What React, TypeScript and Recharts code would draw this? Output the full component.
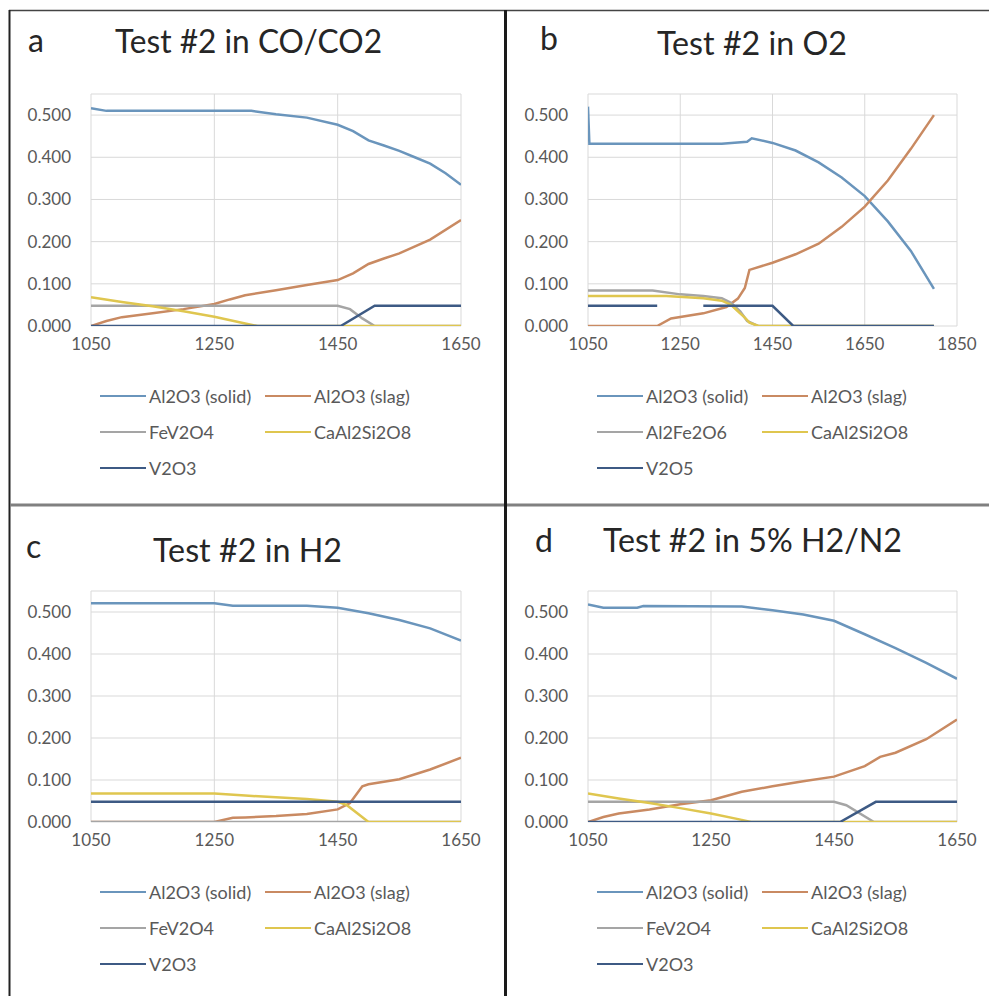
import React from 'react';
import { LineChart, Line, XAxis, YAxis, CartesianGrid, Legend } from 'recharts';

type Pt = [number, number | null];

// ---------- axis ticks ----------
const yTicks = [0, 0.1, 0.2, 0.3, 0.4, 0.5];
const xTicksShort = [1050, 1250, 1450, 1650];
const xTicksLong = [1050, 1250, 1450, 1650, 1850];

// ---------- series names ----------
const namesVO = ['Al2O3 (solid)', 'Al2O3 (slag)', 'FeV2O4', 'CaAl2Si2O8', 'V2O3'];
const namesO2 = ['Al2O3 (solid)', 'Al2O3 (slag)', 'Al2Fe2O6', 'CaAl2Si2O8', 'V2O5'];

// ---------- panel a: Test #2 in CO/CO2 ----------
const aSolid: Pt[] = [[1050, 0.516], [1075, 0.51], [1100, 0.51], [1200, 0.51], [1310, 0.51], [1350, 0.502], [1400, 0.494], [1450, 0.477], [1475, 0.462], [1500, 0.44], [1525, 0.428], [1550, 0.415], [1575, 0.4], [1600, 0.385], [1625, 0.362], [1650, 0.335]];
const aSlag: Pt[] = [[1050, 0], [1075, 0.012], [1100, 0.021], [1150, 0.03], [1200, 0.04], [1250, 0.052], [1275, 0.063], [1300, 0.073], [1350, 0.085], [1400, 0.097], [1450, 0.109], [1475, 0.125], [1500, 0.147], [1525, 0.16], [1550, 0.172], [1600, 0.205], [1650, 0.251]];
const aFeV2O4: Pt[] = [[1050, 0.048], [1450, 0.048], [1470, 0.04], [1490, 0.018], [1510, 0], [1650, 0]];
const aCaAl2Si2O8: Pt[] = [[1050, 0.068], [1100, 0.057], [1150, 0.047], [1200, 0.035], [1250, 0.022], [1300, 0.006], [1320, 0], [1650, 0]];
const aV2O3: Pt[] = [[1050, 0], [1455, 0], [1510, 0.048], [1650, 0.048]];

// ---------- panel b: Test #2 in O2 ----------
const bSolid: Pt[] = [[1050, 0.52], [1053, 0.432], [1200, 0.432], [1340, 0.432], [1395, 0.437], [1405, 0.445], [1450, 0.434], [1500, 0.416], [1550, 0.388], [1600, 0.352], [1650, 0.308], [1700, 0.248], [1750, 0.178], [1800, 0.088]];
const bSlag: Pt[] = [[1050, 0], [1200, 0], [1230, 0.018], [1300, 0.03], [1350, 0.045], [1375, 0.065], [1390, 0.09], [1400, 0.133], [1450, 0.15], [1500, 0.17], [1550, 0.195], [1600, 0.235], [1650, 0.283], [1700, 0.345], [1750, 0.42], [1800, 0.5]];
const bAl2Fe2O6: Pt[] = [[1050, 0.084], [1190, 0.084], [1250, 0.075], [1300, 0.071], [1340, 0.066], [1360, 0.055], [1380, 0.035], [1395, 0.012], [1418, 0], [1800, 0]];
const bCaAl2Si2O8: Pt[] = [[1050, 0.071], [1220, 0.071], [1300, 0.066], [1340, 0.06], [1360, 0.05], [1375, 0.035], [1390, 0.02], [1400, 0.008], [1420, 0], [1800, 0]];
const bV2O5: Pt[] = [[1050, 0.048], [1200, 0.048], [1250, null], [1300, 0.048], [1450, 0.048], [1495, 0], [1800, 0]];

// ---------- panel c: Test #2 in H2 ----------
const cSolid: Pt[] = [[1050, 0.521], [1250, 0.521], [1280, 0.515], [1400, 0.515], [1450, 0.51], [1500, 0.497], [1550, 0.481], [1600, 0.461], [1650, 0.432]];
const cSlag: Pt[] = [[1050, 0], [1250, 0], [1280, 0.01], [1300, 0.011], [1350, 0.014], [1400, 0.019], [1450, 0.03], [1470, 0.045], [1490, 0.085], [1500, 0.09], [1550, 0.102], [1600, 0.125], [1650, 0.153]];
const cFeV2O4: Pt[] = [[1050, 0], [1650, 0]];
const cCaAl2Si2O8: Pt[] = [[1050, 0.068], [1250, 0.068], [1300, 0.063], [1400, 0.055], [1450, 0.048], [1465, 0.04], [1500, 0], [1650, 0]];
const cV2O3: Pt[] = [[1050, 0.048], [1650, 0.048]];

// ---------- panel d: Test #2 in 5% H2/N2 ----------
const dSolid: Pt[] = [[1050, 0.518], [1075, 0.51], [1130, 0.51], [1140, 0.514], [1300, 0.513], [1350, 0.504], [1400, 0.494], [1450, 0.479], [1500, 0.447], [1550, 0.414], [1600, 0.379], [1650, 0.341]];
const dSlag: Pt[] = [[1050, 0], [1075, 0.012], [1100, 0.02], [1150, 0.03], [1200, 0.042], [1250, 0.052], [1300, 0.072], [1350, 0.085], [1400, 0.097], [1450, 0.108], [1500, 0.133], [1525, 0.155], [1550, 0.165], [1600, 0.197], [1650, 0.244]];
const dFeV2O4: Pt[] = [[1050, 0.048], [1450, 0.048], [1470, 0.04], [1515, 0], [1650, 0]];
const dCaAl2Si2O8: Pt[] = [[1050, 0.068], [1100, 0.056], [1150, 0.045], [1200, 0.033], [1250, 0.02], [1300, 0.005], [1315, 0], [1650, 0]];
const dV2O3: Pt[] = [[1050, 0], [1460, 0], [1518, 0.048], [1650, 0.048]];

const colors = ['#6A95BC', '#C98A62', '#A5A5A5', '#DFC64F', '#3D5A84'];
const FONT = 'Lato, "Open Sans", sans-serif';
const TICK_COLOR = '#595959';

const toRows = (pts: Pt[]) => pts.map(([t, v]) => ({ t, v }));

type PanelProps = {
  plotLeft: number;
  plotTop: number;
  plotW: number;
  plotH: number;
  xMax: number;
  xTicks: number[];
  series: Pt[][];
  names: string[];
};

const YW = 70;
const MT = 10;
const MR = 30;
const XH = 30;
const MB = 140;

function LegendBox({ names, plotH }: { names: string[]; plotH: number }) {
  const rows = [70, 106, 142];
  const items = [
    { i: 0, col: 0, row: 0 },
    { i: 1, col: 1, row: 0 },
    { i: 2, col: 0, row: 1 },
    { i: 3, col: 1, row: 1 },
    { i: 4, col: 0, row: 2 },
  ];
  const base = MT + plotH; // plot bottom in chart coords
  return (
    <div style={{ position: 'relative', width: '100%', height: '100%' }}>
      {items.map(({ i, col, row }) => {
        const lineX = YW + (col === 0 ? 9 : 174);
        const cy = base + rows[row];
        return (
          <React.Fragment key={i}>
            <div
              style={{
                position: 'absolute',
                left: lineX,
                top: cy - 1.25,
                width: 46,
                height: 2.5,
                background: colors[i],
              }}
            />
            <div
              style={{
                position: 'absolute',
                left: lineX + 49,
                top: cy - 11,
                height: 22,
                lineHeight: '22px',
                fontFamily: FONT,
                fontSize: 18,
                color: TICK_COLOR,
                whiteSpace: 'nowrap',
              }}
            >
              {names[i]}
            </div>
          </React.Fragment>
        );
      })}
    </div>
  );
}

function Panel({ plotLeft, plotTop, plotW, plotH, xMax, xTicks, series, names }: PanelProps) {
  const width = YW + plotW + MR;
  const height = MT + plotH + XH + MB;
  const tickStyle = { fontSize: 17, fill: TICK_COLOR, fontFamily: FONT };
  return (
    <div style={{ position: 'absolute', left: plotLeft - YW, top: plotTop - MT }}>
      <LineChart width={width} height={height} margin={{ top: MT, right: MR, bottom: MB, left: 0 }}>
        <CartesianGrid stroke="#D9D9D9" strokeWidth={1} />
        <XAxis
          type="number"
          dataKey="t"
          domain={[1050, xMax]}
          ticks={xTicks}
          interval={0}
          allowDataOverflow
          axisLine={false}
          tickLine={false}
          tickMargin={6}
          height={XH}
          tick={tickStyle}
        />
        <YAxis
          type="number"
          domain={[0, 0.55]}
          ticks={yTicks}
          interval={0}
          width={YW}
          allowDataOverflow
          axisLine={false}
          tickLine={false}
          tickMargin={14}
          tickFormatter={(v: number) => v.toFixed(3)}
          tick={tickStyle}
        />
        {series.map((s, i) => (
          <Line
            key={i}
            data={toRows(s)}
            dataKey="v"
            name={names[i]}
            type="linear"
            stroke={colors[i]}
            strokeWidth={2.5}
            dot={false}
            activeDot={false}
            connectNulls={false}
            isAnimationActive={false}
          />
        ))}
        <Legend
          layout="horizontal"
          verticalAlign="middle"
          align="center"
          wrapperStyle={{ left: 0, top: 0, width, height }}
          content={() => <LegendBox names={names} plotH={plotH} />}
        />
      </LineChart>
    </div>
  );
}

const titleStyle = { fontFamily: FONT, fontSize: 32, fill: '#262626' } as const;

export default function App() {
  return (
    <div
      style={{
        position: 'absolute',
        left: 0,
        top: 0,
        width: 989,
        height: 996,
        overflow: 'hidden',
        background: '#fff',
      }}
    >
      <Panel plotLeft={91} plotTop={94} plotW={370} plotH={232} xMax={1650} xTicks={xTicksShort}
        series={[aSolid, aSlag, aFeV2O4, aCaAl2Si2O8, aV2O3]} names={namesVO} />
      <Panel plotLeft={588} plotTop={94} plotW={369} plotH={232} xMax={1850} xTicks={xTicksLong}
        series={[bSolid, bSlag, bAl2Fe2O6, bCaAl2Si2O8, bV2O5]} names={namesO2} />
      <Panel plotLeft={91} plotTop={591} plotW={370} plotH={231} xMax={1650} xTicks={xTicksShort}
        series={[cSolid, cSlag, cFeV2O4, cCaAl2Si2O8, cV2O3]} names={namesVO} />
      <Panel plotLeft={588} plotTop={591} plotW={369} plotH={231} xMax={1650} xTicks={xTicksShort}
        series={[dSolid, dSlag, dFeV2O4, dCaAl2Si2O8, dV2O3]} names={namesVO} />

      <svg width={989} height={996} style={{ position: 'absolute', left: 0, top: 0, pointerEvents: 'none' }}>
        {/* frame */}
        <line x1={9} y1={10.5} x2={989} y2={10.5} stroke="#444" strokeWidth={1.5} />
        <line x1={9.5} y1={10} x2={9.5} y2={996} stroke="#222" strokeWidth={2} />
        <line x1={10} y1={505} x2={989} y2={505} stroke="#808080" strokeWidth={3} />
        <line x1={505.5} y1={10} x2={505.5} y2={996} stroke="#1a1a1a" strokeWidth={3} />
        {/* titles */}
        <text x={28} y={52} {...titleStyle}>a</text>
        <text x={115} y={53} textLength={267} lengthAdjust="spacingAndGlyphs" {...titleStyle}>Test #2 in CO/CO2</text>
        <text x={540} y={50} {...titleStyle}>b</text>
        <text x={657} y={55} textLength={190} lengthAdjust="spacingAndGlyphs" {...titleStyle}>Test #2 in O2</text>
        <text x={26} y={558} {...titleStyle}>c</text>
        <text x={153} y={562} textLength={189} lengthAdjust="spacingAndGlyphs" {...titleStyle}>Test #2 in H2</text>
        <text x={535} y={552} {...titleStyle}>d</text>
        <text x={603} y={552} textLength={299} lengthAdjust="spacingAndGlyphs" {...titleStyle}>Test #2 in 5% H2/N2</text>
      </svg>
    </div>
  );
}
